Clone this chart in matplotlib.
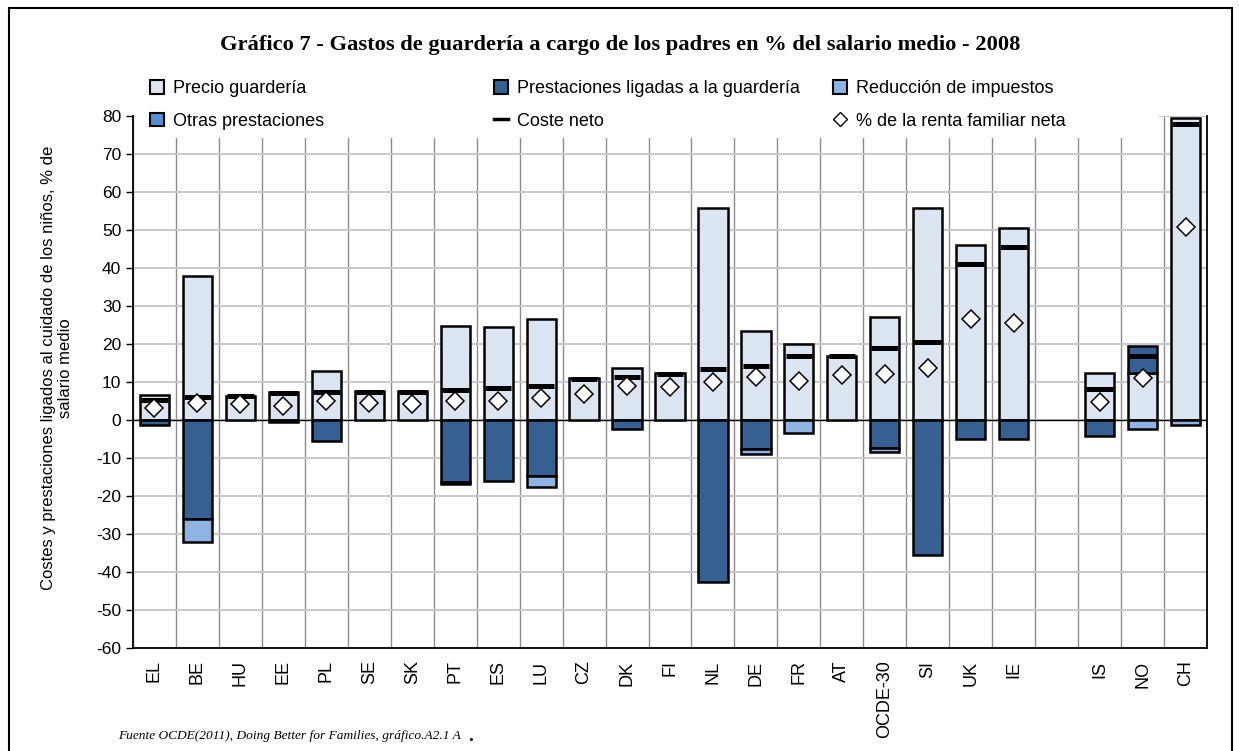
import numpy as np
import matplotlib
matplotlib.use("Agg")
import matplotlib.pyplot as plt
from matplotlib.patches import Rectangle
from matplotlib.lines import Line2D

nan = np.nan
categories = ['EL', 'BE', 'HU', 'EE', 'PL', 'SE', 'SK', 'PT', 'ES', 'LU', 'CZ', 'DK', 'FI',
              'NL', 'DE', 'FR', 'AT', 'OCDE-30', 'SI', 'UK', 'IE', '', 'IS', 'NO', 'CH']
precio = [6.6, 38.0, 6.4, 7.3, 12.9, 7.6, 7.6, 24.8, 24.6, 26.5, 11.0, 13.8, 12.5,
          55.7, 23.5, 20.0, 16.8, 27.1, 55.8, 46.1, 50.4, nan, 12.3, 12.3, 79.4]
ligadas = [-1.3, -26.1, 0, -0.4, -5.4, 0, 0, -16.4, -16.1, -14.7, 0, -2.4, 0,
           -42.6, -7.7, 0, 0, -7.4, -35.5, -5.1, -5.1, nan, -4.2, 7.2, 0]
otras = [0, 0, 0, 0, 0, 0, 0, -0.5, 0, 0, 0, 0, 0,
         0, 0, 0, 0, 0, 0, 0, 0, nan, 0, 0, 0]
reduccion = [0, -5.9, 0, 0, 0, 0, 0, 0, 0, -2.8, 0, 0, 0,
             0, -1.2, -3.5, 0, -0.9, 0, 0, 0, nan, 0, -2.4, -1.3]
neto = [5.3, 6.1, 6.2, 7.0, 7.5, 7.4, 7.4, 7.9, 8.5, 9.0, 10.7, 11.4, 12.2,
        13.3, 14.3, 16.9, 16.9, 18.9, 20.4, 41.1, 45.4, nan, 8.2, 16.8, 78.0]
renta = [3.1, 4.6, 4.2, 3.7, 5.0, 4.6, 4.1, 5.0, 5.0, 5.7, 6.8, 8.9, 8.6,
         10.1, 11.4, 10.3, 11.8, 12.0, 13.8, 26.6, 25.4, nan, 4.8, 11.1, 50.7]

series_names = ['Precio guardería', 'Prestaciones ligadas a la guardería',
                'Otras prestaciones', 'Reducción de impuestos']
series_colors = ['#DBE5F1', '#376092', '#558ED5', '#8DB4E2']

plt.rcParams['font.family'] = ['Liberation Sans', 'DejaVu Sans']
plt.rcParams['axes.unicode_minus'] = False

fig = plt.figure(figsize=(12.39, 7.51), dpi=100)
ax = fig.add_axes([133/1239, 1 - 648/751, (1207-133)/1239, (648-116)/751])

x = np.arange(len(categories))
w = 0.68
pos_bottom = np.zeros(len(x))
neg_bottom = np.zeros(len(x))
handles = {}
for name, vals, col in zip(series_names, [precio, ligadas, otras, reduccion], series_colors):
    v = np.nan_to_num(np.array(vals, dtype=float))
    bottoms = np.where(v >= 0, pos_bottom, neg_bottom)
    mask = v != 0
    ax.bar(x[mask], v[mask], w, bottom=bottoms[mask], color=col,
           edgecolor='black', linewidth=1.8, zorder=3)
    handles[name] = Rectangle((0, 0), 1, 1, facecolor=col, edgecolor='black', linewidth=1.5)
    pos_bottom = pos_bottom + np.where(v > 0, v, 0)
    neg_bottom = neg_bottom + np.where(v < 0, v, 0)

neto_a = np.array(neto, dtype=float)
ok = ~np.isnan(neto_a)
ax.hlines(neto_a[ok], x[ok] - w/2 + 0.03, x[ok] + w/2 - 0.03, colors='black',
          linewidth=3.6, zorder=4)
ax.plot(x, renta, linestyle='none', marker='D', markersize=9, markerfacecolor='white',
        markeredgecolor='black', markeredgewidth=1.1, zorder=5)

ax.axhline(0, color='black', linewidth=1.0, zorder=2.5)

ax.set_xlim(-0.5, len(x) - 0.5)
ax.set_ylim(-60, 80)
ax.set_yticks(np.arange(-60, 81, 10))
ax.set_xticks(x)
ax.set_xticklabels(categories, rotation=90, fontsize=13)
ax.set_xticks(np.arange(-0.5, len(x), 1.0), minor=True)
ax.tick_params(axis='x', which='major', length=0, pad=9)
ax.tick_params(axis='x', which='minor', length=0)
ax.tick_params(axis='y', labelsize=12.5, length=5, direction='out', width=1)
ax.grid(axis='y', which='major', color='#C8C8C8', linewidth=1.4, zorder=0)
ax.grid(axis='x', which='minor', color='#8C8C8C', linewidth=1.0, zorder=0)
ax.grid(axis='x', which='major', visible=False)
ax.set_axisbelow(True)
for s in ['left', 'bottom', 'right']:
    ax.spines[s].set_color('black')
    ax.spines[s].set_linewidth(1.3)
ax.spines['top'].set_visible(False)

# white legend backdrop covering top of plot area
ax.add_patch(Rectangle((0.003, (648-138)/532), (1157-134)/1074, 0.06, transform=ax.transAxes,
                       facecolor='white', edgecolor='none', zorder=1, clip_on=False))

ax.set_ylabel('Costes y prestaciones ligados al cuidado de los niños, % de\nsalario medio',
              fontsize=12)
ax.yaxis.set_label_coords(-(133-73)/1074, (648-368)/532)

legend_groups = [
    ([handles['Precio guardería'], handles['Otras prestaciones']],
     ['Precio guardería', 'Otras prestaciones'], 150),
    ([handles['Prestaciones ligadas a la guardería'],
      Line2D([], [], color='black', linewidth=2.5)],
     ['Prestaciones ligadas a la guardería', 'Coste neto'], 494),
    ([handles['Reducción de impuestos'],
      Line2D([], [], linestyle='none', marker='D', markersize=7,
             markerfacecolor='white', markeredgecolor='black')],
     ['Reducción de impuestos', '% de la renta familiar neta'], 833),
]
for hs, ls, xpos in legend_groups:
    fig.legend(hs, ls, ncol=1, loc='upper left',
               bbox_to_anchor=(xpos/1239, 1 - 80/751), frameon=False, fontsize=13,
               handlelength=0.8, handleheight=0.8, handletextpad=0.45,
               labelspacing=0.85, borderaxespad=0, borderpad=0)

fig.text(620/1239, 1 - 45/751,
         'Gráfico 7 - Gastos de guardería a cargo de los padres en % del salario medio - 2008',
         ha='center', va='center', fontsize=16.2, fontweight='bold', family='Liberation Serif')
fig.text(118/1239, 1 - 736/751, 'Fuente OCDE(2011), Doing Better for Families, gráfico.A2.1 A',
         ha='left', va='center', fontsize=9.6, style='italic', family='Liberation Serif')
fig.text(468/1239, 1 - 741/751, '.', ha='left', va='baseline', fontsize=14,
         fontweight='bold', family='Liberation Serif')

fig.patches.append(Rectangle((9/1239, -0.05), (1232-9)/1239, 1.05 - 8/751,
                             transform=fig.transFigure, fill=False, edgecolor='black',
                             linewidth=1.5, zorder=10))

fig.savefig('out.png', dpi=100)
